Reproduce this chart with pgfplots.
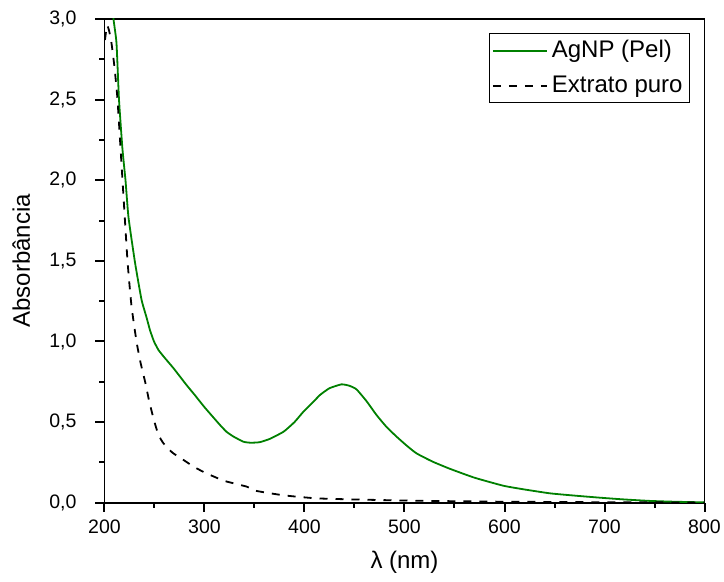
\documentclass[border=0pt]{standalone}
\usepackage{pgfplots}
\pgfplotsset{compat=1.18}
\usepackage{fontspec}
\setmainfont{Liberation Sans}
\definecolor{agreen}{RGB}{0,128,0}
\begin{document}
\begin{tikzpicture}
\begin{axis}[
  scale only axis,
  width=300pt, height=241.85pt,
  xmin=200, xmax=800, ymin=0, ymax=3,
  xtick={200,300,...,800},
  ytick={0,0.5,...,3},
  minor x tick num=1, minor y tick num=1,
  tick align=outside,
  xtick pos=bottom, ytick pos=left,
  major tick length=4.5pt, minor tick length=2.5pt,
  axis line style={line width=0.9pt},
  every axis/.append style={line width=0.9pt},
  major tick style={black, line width=1pt},
  minor tick style={black, line width=1pt},
  /pgf/number format/assume math mode=true,
  tick label style={font=\fontsize{9.75}{11}\selectfont},
  xticklabel style={/pgf/number format/1000 sep={}},
  yticklabel style={/pgf/number format/.cd, use comma, fixed, fixed zerofill, precision=1},
  yticklabel shift=5.75pt,
  xticklabel shift=0.5pt,
  label style={font=\fontsize{12}{14}\selectfont},
  xlabel={λ (nm)},
  ylabel={Absorbância},
  xlabel style={yshift=-1.25pt},
  ylabel style={yshift=2.5pt},
  legend style={at={(0.976,0.971)}, anchor=north east, draw=black, line width=0.5pt,
    font=\fontsize{12}{14}\selectfont, inner sep=1.5pt, row sep=3.5pt, legend cell align=left},
  legend image code/.code={\draw[#1] (0pt,0pt) -- (27pt,0pt);},
]
\coordinate (SW) at (rel axis cs:0,0);
\coordinate (NE) at (rel axis cs:1,1);
\addplot[agreen, line width=0.9pt, smooth, tension=0.3] coordinates {
(206,3.2) (209,3.0) (212,2.85) (214.5,2.5) (218,2.19) (221,2.0) (224,1.77)
(230.5,1.49) (237,1.26) (242,1.15) (245.5,1.07) (249.5,1.0) (254,0.947)
(260,0.9) (269,0.834) (282,0.73) (290,0.67) (299.5,0.596) (308,0.535)
(315.5,0.482) (322,0.44) (329,0.41) (339,0.378) (346,0.372) (355,0.375)
(365,0.395) (379,0.44) (390,0.5) (399,0.565) (408,0.62) (415.5,0.668)
(425,0.71) (437,0.734) (445,0.725) (452,0.703) (462,0.63) (472,0.544)
(482,0.47) (492,0.41) (502,0.355) (512,0.306) (528,0.255) (545.5,0.21)
(570,0.155) (599,0.105) (620,0.082) (645.5,0.058) (670,0.044) (695.5,0.031)
(720,0.02) (745.5,0.011) (770,0.006) (800,0.002)
};
\addlegendentry{AgNP (Pel)}
\addplot[black, line width=0.9pt, dash pattern=on 4pt off 4pt, smooth, tension=0.3] coordinates {
(200.5,2.87) (202.5,2.96) (204.5,2.93) (207,2.85) (210,2.70) (213,2.5)
(218,2.0) (223,1.5) (227,1.22) (232,1.0) (236,0.87) (241,0.74) (245,0.62)
(250,0.5) (254,0.42) (259,0.368) (268,0.31) (279,0.265) (290,0.22)
(302,0.182) (320,0.135) (342,0.1) (352,0.073) (380,0.045) (412,0.027)
(450,0.02) (512,0.012) (600,0.006) (700,0.003) (800,0.001)
};
\addlegendentry{Extrato puro}
\end{axis}
\pgfresetboundingbox
\path[use as bounding box] ([xshift=-52.25pt,yshift=-39.65pt]SW) rectangle ([xshift=9.75pt,yshift=9.5pt]NE);
\end{tikzpicture}
\end{document}
